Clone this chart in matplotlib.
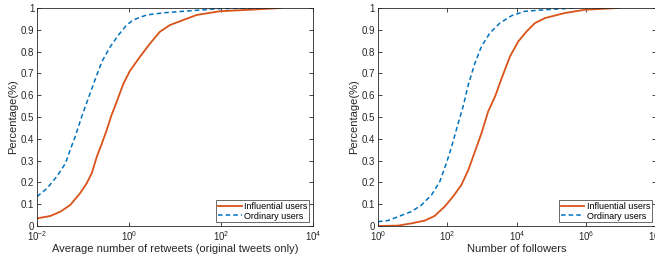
import numpy as np
import matplotlib
matplotlib.use("Agg")
import matplotlib.pyplot as plt

plt.rcParams["font.family"] = ["Liberation Sans", "DejaVu Sans"]

# left panel: avg retweets (log10 of x) vs CDF
rt_infl_logx = [-2.0, -1.71, -1.49, -1.28, -1.065, -0.92, -0.81, -0.70, -0.59, -0.485, -0.38,
                -0.30, -0.12, 0.02, 0.24, 0.46, 0.67, 0.89, 1.18, 1.47, 1.97, 2.62, 3.31]
rt_infl_y = [0.035, 0.046, 0.066, 0.096, 0.15, 0.196, 0.242, 0.318, 0.379, 0.44, 0.509,
             0.552, 0.654, 0.712, 0.777, 0.838, 0.891, 0.922, 0.945, 0.968, 0.985,
             0.992, 1.0]
rt_ord_logx = [-2.0, -1.78, -1.57, -1.38, -1.28, -1.17, -1.03, -0.885, -0.74, -0.59,
               -0.41, -0.23, -0.05, 0.09, 0.38, 0.75, 1.25, 1.97, 2.84]
rt_ord_y = [0.135, 0.173, 0.227, 0.288, 0.349, 0.41, 0.501, 0.586, 0.67, 0.754,
            0.822, 0.876, 0.922, 0.945, 0.968, 0.978, 0.986, 0.997, 1.0]

# right panel: followers
fo_infl_logx = [0.0, 0.58, 0.96, 1.35, 1.63, 1.92, 2.16, 2.4, 2.6, 2.79, 2.98, 3.17, 3.37,
                3.56, 3.8, 4.04, 4.28, 4.52, 4.81, 5.38, 5.96, 6.92]
fo_infl_y = [0.0, 0.002, 0.012, 0.025, 0.046, 0.089, 0.135, 0.188, 0.257, 0.341, 0.426,
             0.525, 0.594, 0.678, 0.778, 0.847, 0.893, 0.931, 0.954, 0.977, 0.992, 1.0]
fo_ord_logx = [0.0, 0.29, 0.58, 0.96, 1.25, 1.54, 1.78, 1.97, 2.12, 2.31, 2.45, 2.6, 2.79,
               2.98, 3.22, 3.51, 3.85, 4.23, 4.81, 5.67]
fo_ord_y = [0.02, 0.025, 0.043, 0.066, 0.096, 0.142, 0.204, 0.288, 0.364, 0.472, 0.548,
            0.648, 0.747, 0.824, 0.885, 0.931, 0.965, 0.985, 0.992, 1.0]

labels = ["Influential users", "Ordinary users"]
orange = "#D95319"
blue = "#0072BD"

fig = plt.figure(figsize=(6.55, 2.58), dpi=100)
ax1 = fig.add_axes([0.0565, 0.124, 0.4215, 0.845])
ax2 = fig.add_axes([0.577, 0.124, 0.4245, 0.845])


def setup(ax, xlim, xticks, xlabel):
    ax.set_xscale("log")
    ax.set_xlim(xlim)
    ax.set_ylim(0, 1)
    ax.set_xticks(xticks)
    ax.xaxis.set_minor_locator(matplotlib.ticker.NullLocator())
    ax.set_yticks(np.arange(0, 1.01, 0.1))
    ax.set_yticklabels(["0"] + ["%.1f" % v for v in np.arange(0.1, 0.95, 0.1)] + ["1"])
    ax.tick_params(direction="in", top=True, right=True, labelsize=7, length=3,
                   width=0.6, pad=2, colors="#262626")
    for s in ax.spines.values():
        s.set_linewidth(0.6)
        s.set_color("#262626")
    ax.set_xlabel(xlabel, fontsize=8, labelpad=1, color="#262626")
    ax.set_ylabel("Percentage(%)", fontsize=8, labelpad=2, color="#262626")


ax1.plot(10 ** np.array(rt_infl_logx), rt_infl_y, color=orange, lw=1.3, label=labels[0])
ax1.plot(10 ** np.array(rt_ord_logx), rt_ord_y, color=blue, lw=1.1, ls=(0, (3, 2)), label=labels[1])
setup(ax1, (1e-2, 1e4), [1e-2, 1e0, 1e2, 1e4], "Average number of retweets (original tweets only)")

ax2.plot(10 ** np.array(fo_infl_logx), fo_infl_y, color=orange, lw=1.3, label=labels[0])
ax2.plot(10 ** np.array(fo_ord_logx), fo_ord_y, color=blue, lw=1.1, ls=(0, (3, 2)), label=labels[1])
setup(ax2, (1e0, 1e8), [1e0, 1e2, 1e4, 1e6, 1e8], "Number of followers")

for ax in (ax1, ax2):
    leg = ax.legend(loc="lower right", fontsize=6.5, frameon=True, fancybox=False,
                    borderpad=0.2, handlelength=2.6, handletextpad=0.3, labelspacing=0.1,
                    borderaxespad=0.4)
    leg.get_frame().set_edgecolor("#262626")
    leg.get_frame().set_linewidth(0.6)

fig.savefig("out.png", dpi=100)
